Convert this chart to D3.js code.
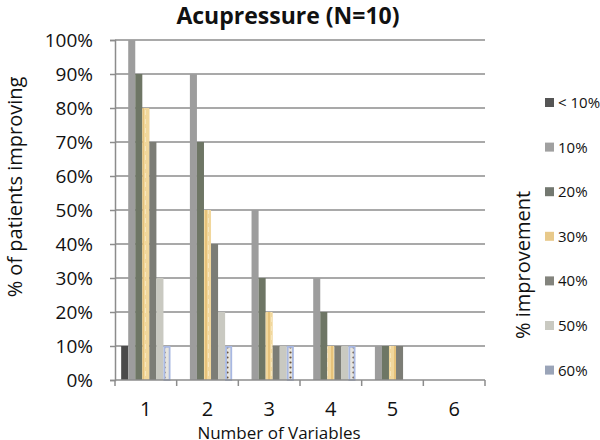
<!DOCTYPE html>
<html>
<head>
<meta charset="utf-8">
<script src="https://cdn.jsdelivr.net/npm/d3@7"></script>
<style>
  body { margin: 0; background: #fff; }
  text { font-family: "Open Sans", "DejaVu Sans", sans-serif; fill: #111; }
</style>
</head>
<body>
<svg id="chart" width="600" height="440"></svg>
<script>
const WIDTH = 600;
const HEIGHT = 440;

// data
const categories = ["1", "2", "3", "4", "5", "6"];
const seriesNames = ["< 10%", "10%", "20%", "30%", "40%", "50%", "60%"];
const lt10 = [10, 0, 0, 0, 0, 0];
const p10 = [100, 90, 50, 30, 10, 0];
const p20 = [90, 70, 30, 20, 10, 0];
const p30 = [80, 50, 20, 10, 10, 0];
const p40 = [70, 40, 10, 10, 10, 0];
const p50 = [30, 20, 10, 10, 0, 0];
const p60 = [10, 10, 10, 10, 0, 0];
const yTicks = [0, 10, 20, 30, 40, 50, 60, 70, 80, 90, 100];

const series = [lt10, p10, p20, p30, p40, p50, p60];
const colors = ["#4b4b4b", "#9d9d9d", "#6e7665", "url(#yellowTex)", "#7c7d76", "#c9c9c1", "url(#dotTex)"];
const legendColors = ["#555", "#a0a0a0", "#737870", "#e8c98a", "#83847d", "#c9c9c1", "#9aa4b8"];

const plot = { left: 115, right: 485, top: 40, bottom: 380 };

const svg = d3.select("#chart");

// patterns for the textured series
const defs = svg.append("defs");
const yel = defs.append("pattern")
    .attr("id", "yellowTex")
    .attr("patternUnits", "userSpaceOnUse")
    .attr("width", 7).attr("height", 9);
yel.append("rect").attr("width", 7).attr("height", 9).attr("fill", "#f1d79c");
yel.append("rect").attr("x", 2).attr("width", 2).attr("height", 9).attr("fill", "#e6c27a");
yel.append("rect").attr("x", 5).attr("y", 2).attr("width", 1).attr("height", 5).attr("fill", "#f7e6bd");

const dot = defs.append("pattern")
    .attr("id", "dotTex")
    .attr("patternUnits", "userSpaceOnUse")
    .attr("width", 7).attr("height", 5);
dot.append("rect").attr("width", 7).attr("height", 5).attr("fill", "#e6e4de");
dot.append("circle").attr("cx", 3.5).attr("cy", 2.5).attr("r", 1.1).attr("fill", "#6a5540");

const x0 = d3.scaleBand()
    .domain(categories)
    .range([plot.left, plot.right])
    .paddingInner(0.2)
    .paddingOuter(0.1);

const x1 = d3.scaleBand()
    .domain(d3.range(series.length))
    .range([0, x0.bandwidth()]);

const y = d3.scaleLinear()
    .domain([0, 100])
    .range([plot.bottom, plot.top]);

// gridlines
svg.append("g")
    .selectAll("line")
    .data(yTicks.filter(d => d > 0))
    .enter()
    .append("line")
    .attr("x1", plot.left)
    .attr("x2", plot.right)
    .attr("y1", d => y(d))
    .attr("y2", d => y(d))
    .attr("stroke", "#8c8c8c")
    .attr("stroke-width", 1.5);

// bars
const groups = svg.append("g")
    .selectAll("g")
    .data(series)
    .enter()
    .append("g")
    .attr("fill", (d, i) => colors[i]);

groups.selectAll("rect")
    .data((d, i) => d.map((v, j) => ({ v: v, s: i, c: categories[j] })))
    .enter()
    .filter(d => d.v > 0)
    .append("rect")
    .attr("x", d => x0(d.c) + x1(d.s) + (d.s === 6 ? 0.9 : 0))
    .attr("width", d => x1.bandwidth() - (d.s === 6 ? 1.8 : 0))
    .attr("y", d => y(d.v) + (d.s === 6 ? 0.9 : 0))
    .attr("height", d => y(0) - y(d.v) - (d.s === 6 ? 0.9 : 0))
    .attr("stroke", d => d.s === 6 ? "#a8b8e2" : null)
    .attr("stroke-width", d => d.s === 6 ? 1.8 : null);

// y axis
const yAxis = svg.append("g")
    .attr("transform", `translate(${plot.left},0)`)
    .call(d3.axisLeft(y).tickValues(yTicks).tickSize(5).tickPadding(17).tickFormat(d => d + "%"));
yAxis.select(".domain").attr("stroke", "#8c8c8c").attr("stroke-width", 1.5);
yAxis.selectAll(".tick line").attr("stroke", "#8c8c8c").attr("stroke-width", 1.5);
yAxis.selectAll(".tick text").attr("font-size", 19).attr("font-family", "Open Sans, sans-serif").attr("fill", "#111");

// x axis
const xEdges = d3.range(categories.length + 1).map(i => plot.left + i * x0.step());
const xAxis = svg.append("g")
    .attr("transform", `translate(0,${plot.bottom})`);
xAxis.append("line")
    .attr("x1", plot.left).attr("x2", plot.right)
    .attr("stroke", "#8c8c8c").attr("stroke-width", 1.5);
xAxis.selectAll(".edge")
    .data(xEdges)
    .enter()
    .append("line")
    .attr("x1", d => d).attr("x2", d => d)
    .attr("y1", 0).attr("y2", 6)
    .attr("stroke", "#8c8c8c").attr("stroke-width", 1.5);
xAxis.selectAll("text")
    .data(categories)
    .enter()
    .append("text")
    .attr("x", d => x0(d) + x0.bandwidth() / 2)
    .attr("y", 36)
    .attr("text-anchor", "middle")
    .attr("font-size", 20)
    .text(d => d);

// titles
svg.append("text")
    .attr("x", 288).attr("y", 24)
    .attr("text-anchor", "middle")
    .attr("font-size", 23)
    .attr("font-weight", "bold")
    .text("Acupressure (N=10)");

svg.append("text")
    .attr("x", 279).attr("y", 439)
    .attr("text-anchor", "middle")
    .attr("font-size", 17)
    .text("Number of Variables");

svg.append("text")
    .attr("transform", "translate(22,187) rotate(-90)")
    .attr("text-anchor", "middle")
    .attr("font-size", 20)
    .text("% of patients improving");

svg.append("text")
    .attr("transform", "translate(530,265) rotate(-90)")
    .attr("text-anchor", "middle")
    .attr("font-size", 20)
    .text("% improvement");

// legend
const legend = svg.append("g")
    .selectAll("g")
    .data(seriesNames)
    .enter()
    .append("g")
    .attr("transform", (d, i) => `translate(545,${103 + i * 44.6})`);
legend.append("rect")
    .attr("x", 0).attr("y", -5)
    .attr("width", 9).attr("height", 9)
    .attr("fill", (d, i) => legendColors[i]);
legend.append("text")
    .attr("x", 13).attr("y", 5)
    .attr("font-size", 15)
    .text(d => d);
</script>
</body>
</html>
